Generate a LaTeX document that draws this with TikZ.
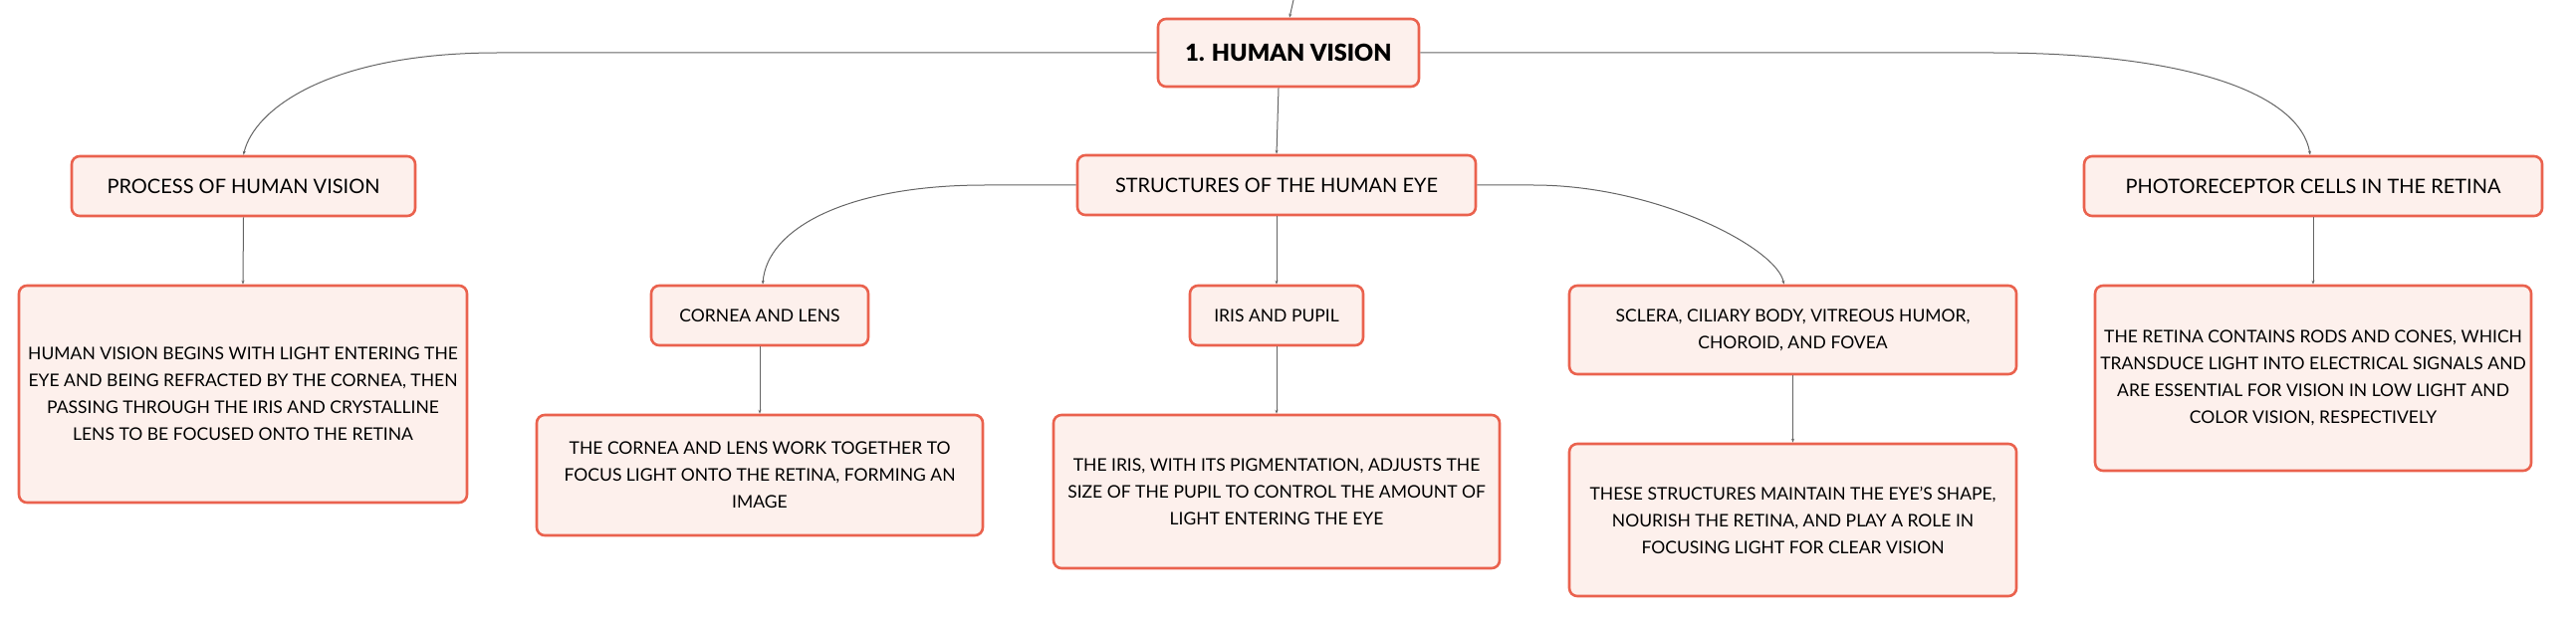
\documentclass[tikz,border=0pt]{standalone}
\usepackage{fontspec}
\setmainfont{Lato}
\newfontfamily\heavyfont{Lato Black}
\usetikzlibrary{arrows.meta}
\definecolor{bordc}{RGB}{234,98,78}
\definecolor{fillc}{RGB}{253,240,236}
\definecolor{linec}{RGB}{100,100,100}
\tikzset{
  nodebox/.style={draw=bordc, fill=fillc, line width=2.6pt, rounded corners=8pt, align=center, inner sep=0pt, text=black},
  lbl/.style={nodebox, font=\fontsize{20}{27}\selectfont},
  desc/.style={nodebox, font=\fontsize{17.5}{27}\selectfont},
  conn/.style={draw=linec, line width=1pt, -{Stealth[length=4pt,width=3pt]}}
}
\begin{document}
\begin{tikzpicture}[x=1pt,y=-1pt]
\useasboundingbox (0,0) rectangle (2587,620);
\node[nodebox, font=\fontsize{23.5}{28}\selectfont\heavyfont, minimum width=262pt, minimum height=68pt] (root) at (1294,53) {1. HUMAN VISION};
\node[lbl, minimum width=345pt, minimum height=60pt] (proc) at (244.5,187) {PROCESS OF HUMAN VISION};
\node[lbl, minimum width=400pt, minimum height=60pt] (struct) at (1282,186) {STRUCTURES OF THE HUMAN EYE};
\node[lbl, minimum width=460pt, minimum height=60pt] (photo) at (2323,187) {PHOTORECEPTOR CELLS IN THE RETINA};
\node[desc, minimum width=450pt, minimum height=218pt] (procd) at (244,396) {HUMAN VISION BEGINS WITH LIGHT ENTERING THE\\EYE AND BEING REFRACTED BY THE CORNEA, THEN\\PASSING THROUGH THE IRIS AND CRYSTALLINE\\LENS TO BE FOCUSED ONTO THE RETINA};
\node[desc, minimum width=218pt, minimum height=60pt] (cornea) at (763,317) {CORNEA AND LENS};
\node[desc, minimum width=174pt, minimum height=60pt] (iris) at (1282,317) {IRIS AND PUPIL};
\node[desc, minimum width=449pt, minimum height=89pt] (sclera) at (1800.5,331.5) {SCLERA, CILIARY BODY, VITREOUS HUMOR,\\CHOROID, AND FOVEA};
\node[desc, minimum width=438pt, minimum height=186pt] (photod) at (2323,380) {THE RETINA CONTAINS RODS AND CONES, WHICH\\TRANSDUCE LIGHT INTO ELECTRICAL SIGNALS AND\\ARE ESSENTIAL FOR VISION IN LOW LIGHT AND\\COLOR VISION, RESPECTIVELY};
\node[desc, minimum width=448pt, minimum height=121pt] (corned) at (763,477.5) {THE CORNEA AND LENS WORK TOGETHER TO\\FOCUS LIGHT ONTO THE RETINA, FORMING AN\\IMAGE};
\node[desc, minimum width=448pt, minimum height=154pt] (irisd) at (1282,494) {THE IRIS, WITH ITS PIGMENTATION, ADJUSTS THE\\SIZE OF THE PUPIL TO CONTROL THE AMOUNT OF\\LIGHT ENTERING THE EYE};
\node[desc, minimum width=449pt, minimum height=153pt] (sclerad) at (1800.5,522.5) {THESE STRUCTURES MAINTAIN THE EYE'S SHAPE,\\NOURISH THE RETINA, AND PLAY A ROLE IN\\FOCUSING LIGHT FOR CLEAR VISION};
\coordinate (top) at (1299,0);
% connectors
\draw[conn] (top) -- ([xshift=1pt]root.north);
\draw[conn] (root.west) -- (500,53) .. controls (330,53) and (255,110) .. (proc.north);
\draw[conn] ([xshift=-10pt]root.south) -- (struct.north);
\draw[conn] (root.east) -- (2000,53) .. controls (2200,53) and (2310,95) .. ([xshift=-3pt]photo.north);
\draw[conn] (proc.south) -- (procd.north);
\draw[conn] (struct.west) -- (989,186) .. controls (850,186) and (770,230) .. ([xshift=3pt]cornea.north);
\draw[conn] (struct.south) -- (iris.north);
\draw[conn] (struct.east) -- (1540,186) .. controls (1665,186) and (1785,250) .. ([xshift=-9pt]sclera.north);
\draw[conn] (photo.south) -- (photod.north);
\draw[conn] (cornea.south) -- (corned.north);
\draw[conn] (iris.south) -- (irisd.north);
\draw[conn] (sclera.south) -- (sclerad.north);
\end{tikzpicture}
\end{document}
